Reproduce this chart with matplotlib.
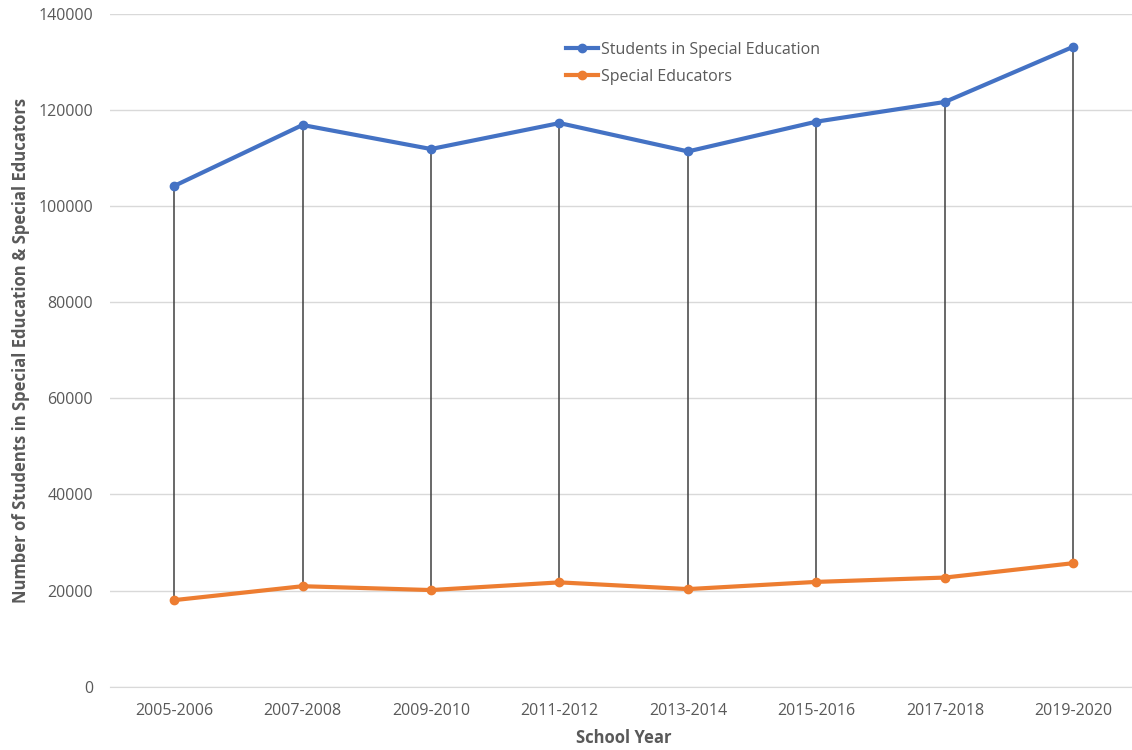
import matplotlib.pyplot as plt

# school years and counts
years = ["2005-2006", "2007-2008", "2009-2010", "2011-2012",
         "2013-2014", "2015-2016", "2017-2018", "2019-2020"]
students = [104200, 116900, 111900, 117300, 111400, 117600, 121700, 133200]
educators = [18000, 20900, 20100, 21700, 20300, 21800, 22700, 25700]

plt.rcParams['font.family'] = ['Open Sans', 'DejaVu Sans']
gray = "#595959"

fig = plt.figure(figsize=(11.32, 7.5), dpi=100)
ax = fig.add_axes([0.097, 0.0845, 0.908, 0.8968])

pos = range(len(years))

# high-low lines between the two series
ax.vlines(pos, educators, students, color="#404040", linewidth=1.1, zorder=2)

ax.plot(pos, students, color="#4472C4", linewidth=3, marker="o", markersize=6,
        label="Students in Special Education", zorder=3)
ax.plot(pos, educators, color="#ED7D31", linewidth=3, marker="o", markersize=6,
        label="Special Educators", zorder=3)

ax.set_xlim(-0.5, 7.5)
ax.set_ylim(0, 140000)
ax.set_yticks(range(0, 140001, 20000))
ax.set_xticks(list(pos))
ax.set_xticklabels(years)
ax.grid(axis="y", color="#d9d9d9", linewidth=1)
ax.set_axisbelow(True)
for s in ax.spines.values():
    s.set_visible(False)
ax.spines["bottom"].set_visible(True)
ax.spines["bottom"].set_color("#d9d9d9")
ax.tick_params(length=0, labelsize=11.5, colors=gray, pad=12)

ax.set_xlabel("School Year", fontsize=12, fontweight="bold", color=gray, labelpad=7)
ax.set_ylabel("Number of Students in Special Education & Special Educators",
              fontsize=12, fontweight="bold", color=gray, labelpad=6)

leg = ax.legend(loc="upper left", bbox_to_anchor=(0.43, 0.98), frameon=False,
                fontsize=11.5, handlelength=2, handletextpad=0.2, labelspacing=0.7)
for t in leg.get_texts():
    t.set_color(gray)

plt.savefig("out.png")
